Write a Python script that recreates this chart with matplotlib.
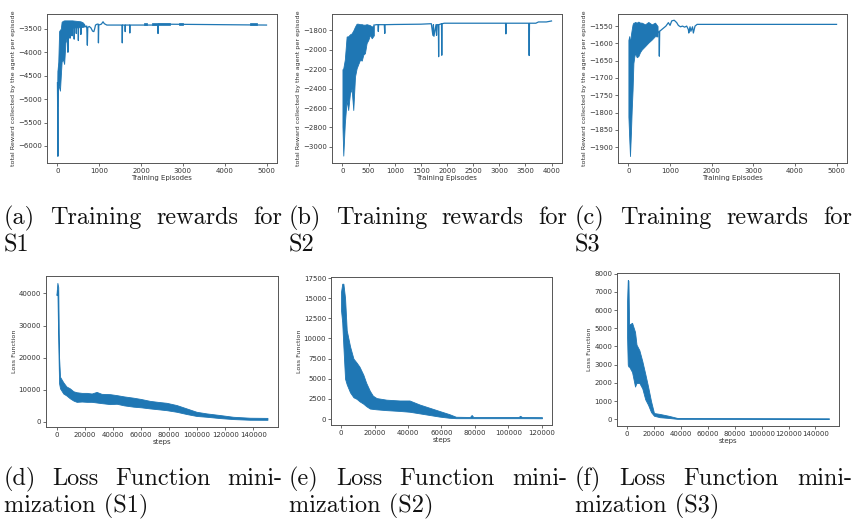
import numpy as np
import matplotlib
matplotlib.use("Agg")
import matplotlib.pyplot as plt

BLUE = "#1f77b4"
W, H = 853, 527

# ---------------- Training rewards (S1) ----------------
s1_band_ep = [0, 20, 40, 60, 80, 100, 130, 160, 190, 220, 260, 300, 350, 400, 450, 500, 550, 600, 640]
s1_band_hi = [-4400, -4200, -3550, -3520, -3500, -3350, -3330, -3320, -3320, -3320, -3320, -3320,
              -3320, -3325, -3330, -3335, -3340, -3360, -3400]
s1_band_lo = [-5150, -4700, -4750, -4820, -4500, -4200, -4150, -4250, -3800, -3700, -3600, -3500,
              -3480, -3470, -3470, -3470, -3460, -3460, -3450]
s1_ep = [0, 5, 10, 15, 25, 245, 250, 255, 295, 300, 305, 345, 350, 355, 395, 400, 405, 445, 450, 455,
         495, 500, 505, 555, 560, 565, 640, 680, 700, 715, 725, 760, 800, 840, 870, 890, 910, 950, 975,
         980, 988, 1050, 1090, 1120, 1180, 1545, 1550, 1556, 1615, 1620, 1626, 1725, 1730, 1736,
         2400, 2405, 2412, 4999]
s1_reward = [-4650, -5150, -6220, -4700, -4400, -3400, -4000, -3400, -3400, -3700, -3400, -3400, -3650,
             -3400, -3400, -3720, -3400, -3400, -3600, -3400, -3400, -3750, -3400, -3400, -3620, -3400,
             -3420, -3460, -3440, -3850, -3470, -3450, -3480, -3550, -3560, -3500, -3420, -3400, -3400,
             -3800, -3420, -3400, -3350, -3390, -3420, -3420, -3800, -3420, -3420, -3560, -3420, -3420,
             -3590, -3420, -3420, -3600, -3400, -3420]
s1_flutter = [(2080, 2150), (2250, 2700), (2900, 3010), (4600, 4780)]
s1_flutter_range = (-3420, -3385)

# ---------------- Training rewards (S2) ----------------
s2_band_ep = [0, 16, 45, 80, 110, 143, 175, 207, 240, 271, 300, 335, 370, 398, 430, 462, 495, 526, 560, 600]
s2_band_hi = [-2200, -2190, -2100, -1862, -1860, -1840, -1830, -1800, -1760, -1730, -1730, -1735,
              -1735, -1740, -1740, -1735, -1740, -1745, -1760, -1745]
s2_band_lo = [-2790, -3090, -2760, -2517, -2620, -2450, -2400, -2620, -2275, -2190, -2150, -2103,
              -2110, -2050, -2034, -1930, -1896, -1845, -1880, -1850]
s2_ep = [600, 650, 680, 686, 692, 800, 810, 816, 1000, 1500, 1700, 1730, 1740, 1750, 1790, 1800, 1810,
         1835, 1840, 1845, 1895, 1900, 1905, 1950, 2500, 3120, 3126, 3132, 3565, 3572, 3578, 3700,
         3750, 3900, 3999]
s2_reward = [-1745, -1740, -1740, -1810, -1740, -1740, -1830, -1740, -1738, -1735, -1730, -1850, -1740,
             -1860, -1740, -1850, -1740, -1740, -2070, -1740, -1730, -2055, -1730, -1725, -1725, -1725,
             -1835, -1725, -1725, -2058, -1725, -1725, -1712, -1712, -1702]

# ---------------- Training rewards (S3) ----------------
s3_band_ep = [0, 20, 38, 60, 79, 100, 120, 140, 159, 200, 238, 280, 319, 400, 478, 560, 639, 700]
s3_band_hi = [-1590, -1579, -1600, -1575, -1560, -1545, -1540, -1540, -1538, -1540, -1537, -1540,
              -1540, -1545, -1538, -1545, -1540, -1550]
s3_band_lo = [-1812, -1875, -1926, -1860, -1793, -1735, -1657, -1640, -1628, -1640, -1637, -1625,
              -1618, -1608, -1598, -1589, -1579, -1580]
s3_ep = [700, 735, 743, 751, 800, 850, 900, 960, 1000, 1040, 1100, 1160, 1200, 1250, 1300, 1350, 1400,
         1440, 1450, 1480, 1500, 1540, 1560, 1600, 1650, 4999]
s3_reward = [-1570, -1565, -1637, -1565, -1560, -1555, -1550, -1540, -1548, -1535, -1533, -1540, -1548,
             -1552, -1550, -1553, -1550, -1560, -1570, -1552, -1565, -1552, -1570, -1550, -1545, -1545]

# ---------------- Loss envelopes ----------------
l1_steps = [0, 600, 1200, 1800, 2500, 4800, 7000, 9500, 12000, 14300, 18000, 21500, 25000, 28500,
            32000, 38000, 42800, 48000, 54600, 60000, 66500, 72000, 78300, 85400, 92500, 99600,
            106700, 116000, 125600, 137500, 150000]
l1_hi = [40000, 43300, 42000, 20000, 14000, 12300, 11000, 10400, 9500, 9200, 9000, 9000, 8800, 9300,
         8700, 8600, 8300, 7900, 7500, 7100, 6500, 6200, 5900, 5200, 4150, 3100, 2600, 2100, 1550,
         1250, 1200]
l1_lo = [39500, 41000, 25000, 12000, 10400, 8800, 8200, 7300, 6600, 6200, 6300, 6200, 6200, 6000,
         5800, 5500, 5600, 5100, 4700, 4500, 4150, 3900, 3600, 3100, 2400, 1800, 1550, 1150, 830,
         620, 600]

l2_steps = [0, 700, 1400, 2400, 3400, 5400, 7400, 9300, 11000, 13300, 15000, 17200, 19000, 21200,
            27100, 35000, 40900, 46900, 52800, 58700, 64700, 68600, 77000, 78000, 79000, 106000,
            107000, 108000, 120000]
l2_hi = [15800, 16800, 16800, 15000, 11000, 9000, 7500, 7000, 6500, 5500, 4500, 3500, 2900, 2600,
         2400, 2300, 2300, 1800, 1400, 1000, 600, 280, 250, 500, 250, 250, 400, 250, 230]
l2_lo = [13500, 12000, 9000, 5000, 4300, 3300, 2700, 2500, 2200, 1900, 1600, 1300, 1250, 1200, 1100,
         1000, 900, 700, 500, 300, 150, 100, 100, 100, 100, 100, 100, 100, 90]

l3_steps = [0, 500, 1000, 1500, 3700, 5900, 7000, 9100, 11300, 13500, 15600, 17800, 20000, 24300,
            30800, 37300, 150000]
l3_hi = [6500, 7650, 7600, 5200, 5300, 4800, 4100, 3800, 3200, 2500, 1800, 1000, 350, 300, 200, 80, 60]
l3_lo = [4500, 3000, 2900, 2900, 2600, 1800, 2000, 2000, 1700, 1100, 800, 400, 200, 120, 80, 30, 20]

reward_ylabel = "total Reward collected by the agent per episode"
captions_top = [["(a)", "Training", "rewards", "for"], ["(b)", "Training", "rewards", "for"],
                ["(c)", "Training", "rewards", "for"]]
captions_top2 = ["S1", "S2", "S3"]
captions_bot = [["(d)", "Loss", "Function", "mini-"], ["(e)", "Loss", "Function", "mini-"],
                ["(f)", "Loss", "Function", "mini-"]]
captions_bot2 = ["mization (S1)", "mization (S2)", "mization (S3)"]

fig = plt.figure(figsize=(W / 100, H / 100), dpi=100)
fig.patch.set_facecolor("white")


def add_ax(l, t, r, b):
    return fig.add_axes([l / W, 1 - b / H, (r - l) / W, (b - t) / H])


def style(ax, xticks, yticks, xlabel, ylabel):
    ax.set_xticks(xticks)
    ax.set_yticks(yticks)
    ax.ticklabel_format(useOffset=False, style="plain")
    ax.tick_params(labelsize=5.0, length=2, width=0.5, pad=1.5, colors="#333333")
    for s in ax.spines.values():
        s.set_color("#555555")
        s.set_linewidth(0.7)
    ax.set_xlabel(xlabel, fontsize=5.0, labelpad=1, color="#333333")
    ax.set_ylabel(ylabel, fontsize=4.6, labelpad=1.5, color="#333333")


def reward_panel(ax, bx, blo, bhi, ex, ey):
    ax.fill_between(bx, blo, bhi, color=BLUE, lw=0.6, edgecolor=BLUE)
    ax.plot(ex, ey, color=BLUE, lw=0.9)


def loss_panel(ax, sx, lo, hi):
    ax.fill_between(sx, lo, hi, color=BLUE, lw=0.6, edgecolor=BLUE)


axA = add_ax(47, 14, 277, 163)
reward_panel(axA, s1_band_ep, s1_band_lo, s1_band_hi, s1_ep, s1_reward)
for a, b in s1_flutter:
    axA.fill_between([a, b], [s1_flutter_range[0]] * 2, [s1_flutter_range[1]] * 2, color=BLUE, lw=0.5)
axA.set_xlim(-250, 5250)
axA.set_ylim(-6364, -3184)
style(axA, range(0, 5001, 1000), range(-6000, -3499, 500), "Training Episodes", reward_ylabel)

axB = add_ax(332, 14, 562, 163)
reward_panel(axB, s2_band_ep, s2_band_lo, s2_band_hi, s2_ep, s2_reward)
axB.set_xlim(-200, 4200)
axB.set_ylim(-3166, -1630)
style(axB, range(0, 4001, 500), range(-3000, -1799, 200), "Training Episodes", reward_ylabel)

axC = add_ax(618, 14, 847, 163)
reward_panel(axC, s3_band_ep, s3_band_lo, s3_band_hi, s3_ep, s3_reward)
axC.set_xlim(-250, 5250)
axC.set_ylim(-1946, -1515)
style(axC, range(0, 5001, 1000), range(-1900, -1549, 50), "Training Episodes", reward_ylabel)

axD = add_ax(46, 276, 278, 427)
loss_panel(axD, l1_steps, l1_lo, l1_hi)
axD.set_xlim(-7500, 157500)
axD.set_ylim(-1640, 45440)
style(axD, range(0, 140001, 20000), range(0, 40001, 10000), "steps", "Loss Function")

axE = add_ax(331, 277, 552, 425)
loss_panel(axE, l2_steps, l2_lo, l2_hi)
axE.set_xlim(-6000, 126000)
axE.set_ylim(-745, 17635)
style(axE, range(0, 120001, 20000), range(0, 17501, 2500), "steps", "Loss Function")

axF = add_ax(617, 273, 839, 426)
loss_panel(axF, l3_steps, l3_lo, l3_hi)
axF.set_xlim(-7500, 157500)
axF.set_ylim(-362, 8032)
style(axF, range(0, 140001, 20000), range(0, 8001, 1000), "steps", "Loss Function")

# ---------------- Sub-captions (justified first line) ----------------
cap_kw = dict(family="cmr10", fontsize=17.5, color="#111111", va="baseline", ha="left")
renderer = fig.canvas.get_renderer()


def justified(words, x0, x1, y):
    texts = [fig.text(x0 / W, 1 - y / H, w, **cap_kw) for w in words]
    widths = [t.get_window_extent(renderer).width for t in texts]
    gap = (x1 - x0 - sum(widths)) / (len(words) - 1)
    x = x0
    for t, w in zip(texts, widths):
        t.set_x(x / W)
        x += w + gap


cols = [(4, 282), (289, 567), (575, 852)]
for (x0, x1), words, second in zip(cols, captions_top, captions_top2):
    justified(words, x0, x1, 224)
    fig.text(x0 / W, 1 - 251 / H, second, **cap_kw)
for (x0, x1), words, second in zip(cols, captions_bot, captions_bot2):
    justified(words, x0, x1, 485)
    fig.text(x0 / W, 1 - 512 / H, second, **cap_kw)

fig.savefig("out.png", dpi=100)
